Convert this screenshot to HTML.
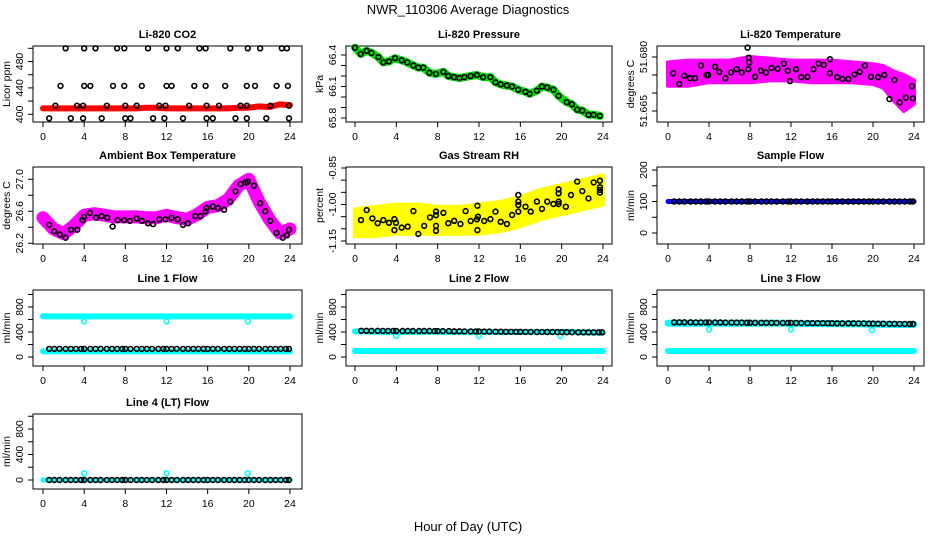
<!DOCTYPE html>
<html><head><meta charset="utf-8">
<style>
html,body{margin:0;padding:0;background:#fff;}
svg{display:block;font-family:"Liberation Sans",Arial,sans-serif;}
</style></head>
<body>
<svg id="chart" width="936" height="540" viewBox="0 0 936 540" xmlns="http://www.w3.org/2000/svg">
<text x="468" y="14" text-anchor="middle" font-size="13">NWR_110306  Average Diagnostics</text>
<text x="468" y="531" text-anchor="middle" font-size="13">Hour of Day (UTC)</text>
</svg>
<script>
// ---------- data ----------
const xTicks = [0,4,8,12,16,20,24];
// CO2
const co2RedHours = [0,1,2,3,4,5,6,7,8,9,10,11,12,13,14,15,16,17,18,19,20,21,22,23,24];
const co2RedVals = [409,409,409,409,409,409,409,409,409,409,410,410,409,409,409,409,409,409,409,410,410,412,411,415,414];
const co2BlackHours = [2.2,4.0,5.1,7.2,7.9,10.2,12.0,13.1,15.2,15.8,18.2,19.9,21.1,23.2,23.7,
  1.7,4.0,4.6,6.8,7.9,9.6,12.0,12.5,14.7,15.8,17.7,19.8,20.6,22.7,23.8,
  1.2,3.3,3.9,6.2,8.0,9.1,11.3,11.9,14.2,15.9,17.1,19.2,19.8,22.1,23.9,
  0.6,2.7,3.9,5.7,8.0,8.5,10.7,11.8,13.6,15.9,16.5,18.7,19.8,21.7,23.9];
const co2BlackVals = [500,500,500,500,500,500,500,500,500,500,500,500,500,500,500,
  443,443,443,443,443,443,443,443,443,443,443,443,443,443,443,
  413,413,413,413,413,413,413,413,413,413,413,413,413,413,413,
  394,394,394,394,394,394,394,394,394,394,394,394,394,394,394];
// Pressure
const presHours = [0,0.55,1.13,1.61,2.26,2.74,3.29,3.87,4.52,5.06,5.65,6.13,6.61,7.2,7.84,8.55,9.03,9.58,10.1,10.6,11.2,11.8,12.4,13.1,13.6,14.1,14.7,15.2,15.8,16.5,16.9,17.6,18.1,18.6,19.2,19.7,20.5,21.0,21.5,22.0,22.6,23.1,23.7];
const presVals = [66.47,66.41,66.44,66.42,66.38,66.33,66.34,66.37,66.35,66.33,66.30,66.28,66.28,66.23,66.22,66.24,66.20,66.19,66.18,66.19,66.20,66.21,66.19,66.19,66.14,66.12,66.11,66.10,66.07,66.05,66.03,66.06,66.10,66.09,66.07,66.01,65.95,65.93,65.88,65.87,65.83,65.83,65.82];
// Li-820 temperature
const ltBandHours = [0,2,4,6,8,10,12,14,16,18,20,21,22,23,24];
const ltBandHi = [51.6785,51.679,51.679,51.679,51.680,51.6795,51.679,51.679,51.679,51.6785,51.678,51.6775,51.676,51.675,51.6735];
const ltBandLo = [51.672,51.672,51.673,51.673,51.673,51.6735,51.6735,51.673,51.673,51.673,51.6725,51.6715,51.668,51.665,51.667];
const ltHours = [0.52,1.1,1.6,2.15,2.63,3.22,3.77,3.93,4.59,5.0,5.6,6.15,6.7,7.2,7.84,7.93,7.87,7.77,8.5,9.07,9.56,10.1,10.7,11.3,11.7,11.9,12.5,13.0,13.6,14.2,14.7,15.2,15.8,15.8,16.5,17.0,17.6,18.2,18.7,19.2,19.8,20.5,21.1,21.6,22.1,22.6,23.2,23.8,23.9];
const ltVals = [51.6755,51.6725,51.6748,51.6741,51.6741,51.6776,51.675,51.675,51.6773,51.6759,51.6741,51.6757,51.6766,51.6757,51.6766,51.6785,51.6798,51.6826,51.6745,51.6762,51.6757,51.677,51.6767,51.6782,51.6762,51.6733,51.6766,51.6744,51.6745,51.6766,51.6782,51.6778,51.6794,51.6755,51.6744,51.6739,51.6739,51.6752,51.6759,51.6776,51.6745,51.6744,51.675,51.6683,51.6736,51.6674,51.6687,51.6719,51.6685];
// Ambient box temperature
const abMagHours = [0,1,2,3,4,5,6,7,8,9,10,11,12,13,14,15,16,17,18,19,20,21,22,23,24];
const abMagVals = [26.52,26.38,26.32,26.42,26.55,26.57,26.55,26.53,26.53,26.53,26.52,26.52,26.55,26.52,26.5,26.56,26.65,26.67,26.75,26.92,27.0,26.72,26.5,26.33,26.38];
const abHours = [0.61,1.1,1.64,2.2,2.72,3.33,3.85,3.98,4.56,5.15,5.7,6.25,6.76,7.25,7.87,8.45,9.1,9.61,10.2,10.7,11.3,11.9,12.5,13.1,13.6,14.1,14.8,15.3,15.8,15.9,16.5,17.0,17.6,18.2,18.7,19.2,19.7,19.9,20.5,21.1,21.6,22.1,22.7,23.3,23.7,23.9];
const abVals = [26.43,26.35,26.31,26.27,26.37,26.37,26.49,26.53,26.58,26.52,26.54,26.52,26.41,26.49,26.49,26.48,26.51,26.48,26.45,26.44,26.5,26.5,26.52,26.5,26.43,26.45,26.54,26.54,26.6,26.64,26.66,26.64,26.62,26.72,26.85,26.94,26.96,26.97,26.92,26.7,26.6,26.48,26.33,26.27,26.3,26.37];
// Gas stream RH
const rhBandHours = [0,2,4,6,8,10,12,14,16,18,20,22,24];
const rhBandHi = [-1.02,-1.01,-1.0,-1.0,-1.01,-1.01,-1.0,-0.99,-0.97,-0.94,-0.92,-0.90,-0.88];
const rhBandLo = [-1.13,-1.13,-1.12,-1.12,-1.12,-1.12,-1.12,-1.11,-1.09,-1.06,-1.04,-1.02,-1.0];
const rhHours = [0.58,1.13,1.68,2.2,2.74,3.29,3.81,3.81,3.97,4.52,5.1,5.65,6.13,6.7,7.26,7.84,7.84,7.84,7.84,8.55,9.03,9.6,10.2,10.7,11.2,11.8,11.85,11.85,11.9,12.5,13.1,13.6,14.1,14.7,15.2,15.8,15.8,15.8,15.8,16.5,17.0,17.6,18.1,18.6,19.2,19.7,19.7,19.7,19.7,20.4,20.9,21.5,22.0,22.6,23.1,23.7,23.7,23.7,23.7];
const rhVals = [-1.064,-1.023,-1.057,-1.077,-1.064,-1.075,-1.06,-1.105,-1.075,-1.095,-1.091,-1.027,-1.121,-1.088,-1.053,-1.044,-1.108,-1.088,-1.029,-1.034,-1.077,-1.067,-1.08,-1.027,-1.068,-1.061,-1.005,-1.105,-1.05,-1.068,-1.06,-1.029,-1.071,-1.08,-1.043,-1.029,-1.002,-0.988,-0.961,-1.009,-1.029,-0.988,-1.018,-0.988,-0.998,-0.988,-0.954,-0.938,-0.998,-1.009,-0.961,-0.906,-0.945,-0.975,-0.909,-0.902,-0.929,-0.951,-0.94];
// Flows (hourly levels, hours 0..24)
const flowHours = [0.6,1.1,1.6,2.2,2.7,3.2,3.7,4.0,4.6,5.1,5.6,6.2,6.7,7.2,7.7,8.0,8.5,9.1,9.6,10.1,10.6,11.2,11.7,12.0,12.5,13.0,13.6,14.1,14.6,15.1,15.6,16.0,16.5,17.0,17.6,18.1,18.6,19.1,19.6,20.0,20.5,21.0,21.6,22.1,22.6,23.1,23.6,23.9];
const lineHours = [0,1,2,3,4,5,6,7,8,9,10,11,12,13,14,15,16,17,18,19,20,21,22,23,24];
const sampleBlue = [100,100,100,100,100,100,100,100,100,100,100,100,100,100,100,100,100,100,100,100,100,100,100,100,100];
const sampleBlack = [100,100,100,100,100,100,100,100,100,100,100,100,100,100,100,100,100,100,100,100,100,100,100,100,100];
const l1CyanHi = [650,650,650,650,650,650,650,650,650,650,650,650,650,650,650,650,650,650,650,650,650,650,650,650,650];
const l1CyanLo = [90,90,90,90,90,90,90,90,90,90,90,90,90,90,90,90,90,90,90,90,90,90,90,90,90];
const l1Black = [130,130,130,130,130,130,130,130,130,130,130,130,130,130,130,130,130,130,130,130,130,130,130,130,130];
const l1DipHours = [4.0,12.0,19.9];
const l1DipVals = [570,570,570];
const l2CyanHi = [410,410,405,400,400,400,400,405,405,400,400,400,400,400,400,400,400,400,400,400,400,400,395,390,390];
const l2CyanLo = [96,96,96,96,96,96,96,96,96,96,96,96,96,96,96,96,96,96,96,96,96,96,96,96,96];
const l2Black = [420,420,420,418,418,416,416,416,415,414,412,410,408,406,405,404,403,402,400,400,398,397,396,395,395];
const l2DipHours = [4.0,12.0,19.9];
const l2DipVals = [336,336,336];
const l3CyanHi = [540,540,540,540,540,540,540,540,540,540,540,540,540,535,535,535,535,530,530,530,525,525,520,520,520];
const l3CyanLo = [96,96,96,96,96,96,96,96,96,96,96,96,96,96,96,96,96,96,96,96,96,96,96,96,96];
const l3Black = [555,555,555,554,553,552,551,550,549,548,547,546,545,544,543,542,541,540,539,537,535,533,531,529,528];
const l3DipHours = [4.0,12.0,19.9];
const l3DipVals = [440,440,430];
const l4CyanHi = [0,0,0,0,0,0,0,0,0,0,0,0,0,0,0,0,0,0,0,0,0,0,0,0,0];
const l4Black = [0,0,0,0,0,0,0,0,0,0,0,0,0,0,0,0,0,0,0,0,0,0,0,0,0];
const l4DipHours = [4.0,12.0,19.9];
const l4DipVals = [105,105,105];

// ---------- layout ----------
const NS = "http://www.w3.org/2000/svg";
const svg = document.getElementById('chart');
const rows = [{t:46,b:122},{t:167,b:244},{t:290,b:366},{t:414,b:489}];
const cols = [{l:33,r:302,x0:43,x24:290},{l:346,r:612,x0:355,x24:603},{l:657,r:924,x0:668,x24:914}];

function mk(tag, attrs, parent){
  const e = document.createElementNS(NS, tag);
  for (const k in attrs) e.setAttribute(k, attrs[k]);
  (parent||svg).appendChild(e);
  return e;
}

function makePanel(name, ci, ri, title, ytitle, vA, pA, vB, pB, yTicks, yLabels){
  const c = cols[ci], r = rows[ri];
  const g = mk('g', {});
  
  
  const X = h => c.x0 + (h/24)*(c.x24 - c.x0);
  const Y = v => pA + (v - vA)*(pB - pA)/(vB - vA);
  const box = mk('rect', {x:c.l, y:r.t, width:c.r-c.l, height:r.b-r.t, fill:'none', stroke:'#000', 'stroke-width':1}, g);
  
  
  const tt = mk('text', {x:(c.l+c.r)/2, y:r.t-8, 'text-anchor':'middle', 'font-size':11, 'font-weight':'bold'}, g);
  tt.textContent = title;
  
  
  // x axis
  xTicks.forEach(t => {
    const x = X(t);
    mk('line', {x1:x, x2:x, y1:r.b, y2:r.b+5, stroke:'#000', 'stroke-width':1}, g);
    const lb = mk('text', {x:x, y:r.b+18, 'text-anchor':'middle', 'font-size':10.5}, g);
    lb.textContent = t;
    
    
  });
  // y axis
  yTicks.forEach(t => {
    const y = Y(t);
    mk('line', {x1:c.l-5, x2:c.l, y1:y, y2:y, stroke:'#000', 'stroke-width':1}, g);
  });
  yLabels.forEach(t => {
    const y = Y(t.v);
    const lb = mk('text', {x:c.l-10, y:y, 'text-anchor':'middle', 'font-size':10.5, transform:`rotate(-90 ${c.l-10} ${y})`}, g);
    lb.textContent = t.s;
    
    
  });
  const yt = mk('text', {x:c.l-23, y:(r.t+r.b)/2, 'text-anchor':'middle', 'font-size':10.5, transform:`rotate(-90 ${c.l-23} ${(r.t+r.b)/2})`}, g);
  yt.textContent = ytitle;
  
  
  return {g, X, Y};
}

function line(p, hs, vs, color, w, nm){
  const pts = hs.map((h,i) => p.X(h).toFixed(1)+','+p.Y(vs[i]).toFixed(1)).join(' ');
  const e = mk('polyline', {points:pts, fill:'none', stroke:color, 'stroke-width':w, 'stroke-linejoin':'round', 'stroke-linecap':'round'}, p.g);
  
  
}
function band(p, hs, hi, lo, color, nm){
  const up = hs.map((h,i) => p.X(h).toFixed(1)+','+p.Y(hi[i]).toFixed(1));
  const dn = hs.map((h,i) => p.X(h).toFixed(1)+','+p.Y(lo[i]).toFixed(1)).reverse();
  const e = mk('polygon', {points:up.concat(dn).join(' '), fill:color, stroke:color, 'stroke-width':4, 'stroke-linejoin':'round'}, p.g);
  
  
}
function circles(p, hs, vs, color, nm){
  hs.forEach((h,i) => {
    const e = mk('circle', {cx:p.X(h).toFixed(1), cy:p.Y(vs[i]).toFixed(1), r:2.4, fill:'none', stroke:color, 'stroke-width':1.6}, p.g);
    
    
  });
}
function hourly(levels){ return flowHours.map(h => levels[Math.round(h)]); }
const L = (v,s) => ({v, s: s===undefined ? String(v) : s});

// Panel 1: CO2
let p = makePanel('co2', 0, 0, 'Li-820 CO2', 'Licor ppm', 400, 114.3, 500, 48.3, [400,420,440,460,480,500], [L(400),L(440),L(480)]);
line(p, co2RedHours, co2RedVals, '#ff0000', 6, 'co2-all-series');
circles(p, co2BlackHours, co2BlackVals, '#000', 'co2-average-point');

// Panel 2: Pressure
p = makePanel('pressure', 1, 0, 'Li-820 Pressure', 'kPa', 66.4, 55, 65.8, 118, [65.8,65.9,66.0,66.1,66.2,66.3,66.4], [L(65.8,'65.8'),L(66.1,'66.1'),L(66.4,'66.4')]);
line(p, presHours, presVals, '#00dd00', 8, 'pressure-all-series');
circles(p, presHours, presVals, '#000', 'pressure-average-point');

// Panel 3: Li-820 temperature
p = makePanel('licor-temp', 2, 0, 'Li-820 Temperature', 'degrees C', 51.680, 57, 51.665, 111, [51.665,51.670,51.675,51.680], [L(51.665,'51.665'),L(51.680,'51.680')]);
band(p, ltBandHours, ltBandHi, ltBandLo, '#ff00ff', 'licor-temp-all-series');
circles(p, ltHours, ltVals, '#000', 'licor-temp-average-point');

// Panel 4: Ambient box temperature
p = makePanel('ambient-temp', 0, 1, 'Ambient Box Temperature', 'degrees C', 27.0, 179.3, 26.2, 243.3, [26.2,26.4,26.6,26.8,27.0], [L(26.2,'26.2'),L(26.6,'26.6'),L(27.0,'27.0')]);
line(p, abMagHours, abMagVals, '#ff00ff', 13, 'ambient-temp-all-series');
circles(p, abHours, abVals, '#000', 'ambient-temp-average-point');

// Panel 5: Gas stream RH
p = makePanel('gas-rh', 1, 1, 'Gas Stream RH', 'percent', -0.85, 168, -1.15, 241, [-0.85,-0.9,-0.95,-1.0,-1.05,-1.1,-1.15], [L(-0.85,'-0.85'),L(-1.0,'-1.00'),L(-1.15,'-1.15')]);
band(p, rhBandHours, rhBandHi, rhBandLo, '#ffff00', 'gas-rh-all-series');
circles(p, rhHours, rhVals, '#000', 'gas-rh-average-point');

// Panel 6: Sample flow
p = makePanel('sample-flow', 2, 1, 'Sample Flow', 'ml/min', 200, 170, 0, 233, [0,50,100,150,200], [L(0),L(100),L(200)]);
line(p, lineHours, sampleBlue, '#0000ff', 5, 'sample-flow-all-series');
circles(p, flowHours, hourly(sampleBlack), '#000', 'sample-flow-average-point');

// Row 3 flows
const flowTicks = [0,200,400,600,800,1000];
const flowLabels = [L(0),L(400),L(800)];
p = makePanel('line1-flow', 0, 2, 'Line 1 Flow', 'ml/min', 0, 357, 800, 307, flowTicks, flowLabels);
line(p, lineHours, l1CyanHi, '#00ffff', 6, 'line1-flow-cyan-upper');
line(p, lineHours, l1CyanLo, '#00ffff', 6, 'line1-flow-cyan-lower');
circles(p, l1DipHours, l1DipVals, '#00ffff', 'line1-flow-cyan-outlier');
circles(p, flowHours, hourly(l1Black), '#000', 'line1-flow-average-point');

p = makePanel('line2-flow', 1, 2, 'Line 2 Flow', 'ml/min', 0, 357, 800, 307, flowTicks, flowLabels);
line(p, lineHours, l2CyanHi, '#00ffff', 6, 'line2-flow-cyan-upper');
line(p, lineHours, l2CyanLo, '#00ffff', 6, 'line2-flow-cyan-lower');
circles(p, l2DipHours, l2DipVals, '#00ffff', 'line2-flow-cyan-outlier');
circles(p, flowHours, hourly(l2Black), '#000', 'line2-flow-average-point');

p = makePanel('line3-flow', 2, 2, 'Line 3 Flow', 'ml/min', 0, 357, 800, 307, flowTicks, flowLabels);
line(p, lineHours, l3CyanHi, '#00ffff', 7, 'line3-flow-cyan-upper');
line(p, lineHours, l3CyanLo, '#00ffff', 6, 'line3-flow-cyan-lower');
circles(p, l3DipHours, l3DipVals, '#00ffff', 'line3-flow-cyan-outlier');
circles(p, flowHours, hourly(l3Black), '#000', 'line3-flow-average-point');

p = makePanel('line4-flow', 0, 3, 'Line 4 (LT) Flow', 'ml/min', 0, 480, 800, 429, flowTicks, flowLabels);
line(p, lineHours, l4CyanHi, '#00ffff', 5, 'line4-flow-cyan-series');
circles(p, l4DipHours, l4DipVals, '#00ffff', 'line4-flow-cyan-outlier');
circles(p, flowHours, hourly(l4Black), '#000', 'line4-flow-average-point');
</script>
</body></html>
